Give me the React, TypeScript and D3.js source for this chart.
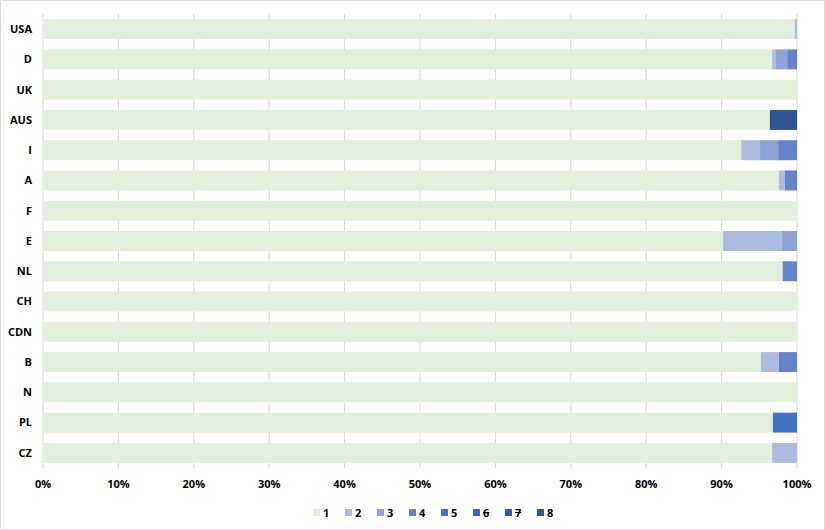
import React from "react";
import * as d3 from "d3";

const categories = ["USA", "D", "UK", "AUS", "I", "A", "F", "E", "NL", "CH", "CDN", "B", "N", "PL", "CZ"];
const seriesNames = ["1", "2", "3", "4", "5", "6", "7", "8"];
const s1 = [99.7, 96.7, 100, 96.4, 92.6, 97.6, 100, 90.2, 98.1, 100, 100, 95.2, 100, 96.8, 96.7];
const s2 = [0.3, 0.5, 0, 0, 2.5, 0.8, 0, 7.8, 0, 0, 0, 2.4, 0, 0, 3.3];
const s3 = [0, 1.5, 0, 0, 2.4, 0, 0, 2.0, 0, 0, 0, 0, 0, 0, 0];
const s4 = [0, 1.3, 0, 0, 2.5, 1.6, 0, 0, 1.9, 0, 0, 2.4, 0, 0, 0];
const s5 = [0, 0, 0, 0, 0, 0, 0, 0, 0, 0, 0, 0, 0, 3.2, 0];
const s6 = [0, 0, 0, 0, 0, 0, 0, 0, 0, 0, 0, 0, 0, 0, 0];
const s7 = [0, 0, 0, 0, 0, 0, 0, 0, 0, 0, 0, 0, 0, 0, 0];
const s8 = [0, 0, 0, 3.6, 0, 0, 0, 0, 0, 0, 0, 0, 0, 0, 0];
const xTicks = [0, 10, 20, 30, 40, 50, 60, 70, 80, 90, 100];

const colors = ["#E2EFDA", "#AEBBE0", "#8FA2D5", "#6483CB", "#4472C4", "#3E67B5", "#375CA3", "#2F5597"];

export default function App() {
  const W = 825, H = 530;
  const left = 43, right = 797, top = 14, bottom = 468;
  const allSeries = [s1, s2, s3, s4, s5, s6, s7, s8];
  const rows = categories.map((c, i) => {
    const r: any = { cat: c };
    seriesNames.forEach((s, j) => (r[s] = allSeries[j][i]));
    return r;
  });
  const stack = d3.stack<any>().keys(seriesNames).offset(d3.stackOffsetExpand)(rows);
  const x = d3.scaleLinear().domain([0, 1]).range([left, right]);
  const y = d3.scaleBand().domain(categories).range([top, bottom]).paddingInner(0.34).paddingOuter(0.17);
  const font = "'Open Sans', 'Liberation Sans', sans-serif";
  return (
    <svg width={W} height={H} style={{ position: "absolute", left: 0, top: 0 }} fontFamily={font}>
      <rect x={0.5} y={0.5} width={W - 1} height={H - 1} fill="#fff" stroke="#D9D9D9" />
      {xTicks.map((t) => (
        <line key={t} x1={x(t / 100)} x2={x(t / 100)} y1={top} y2={bottom} stroke="#D9D9D9" strokeWidth={1} />
      ))}
      {stack.map((layer, li) => (
        <g key={layer.key} fill={colors[li]}>
          {layer.map((d, i) => {
            const w = x(d[1]) - x(d[0]);
            if (w <= 0) return null;
            return <rect key={i} x={x(d[0])} y={y(categories[i])} width={w} height={y.bandwidth()} />;
          })}
        </g>
      ))}
      {categories.map((c) => (
        <text key={c} x={32} y={y(c)! + y.bandwidth() / 2} dy="0.35em" textAnchor="end" fontSize={11} fontWeight="bold" fill="#000">
          {c}
        </text>
      ))}
      {xTicks.map((t) => (
        <text key={t} x={x(t / 100)} y={488} textAnchor="middle" fontSize={11} fontWeight="bold" fill="#000">
          {t}%
        </text>
      ))}
      {seriesNames.map((s, i) => (
        <g key={s} transform={`translate(${313 + i * 32},509)`}>
          <rect x={0} y={0} width={7} height={7} fill={colors[i]} />
          <text x={10} y={7.5} fontSize={11} fontWeight="bold" fill="#000"
            textDecoration={s === "6" || s === "7" ? "line-through" : undefined}>
            {s}
          </text>
        </g>
      ))}
    </svg>
  );
}
